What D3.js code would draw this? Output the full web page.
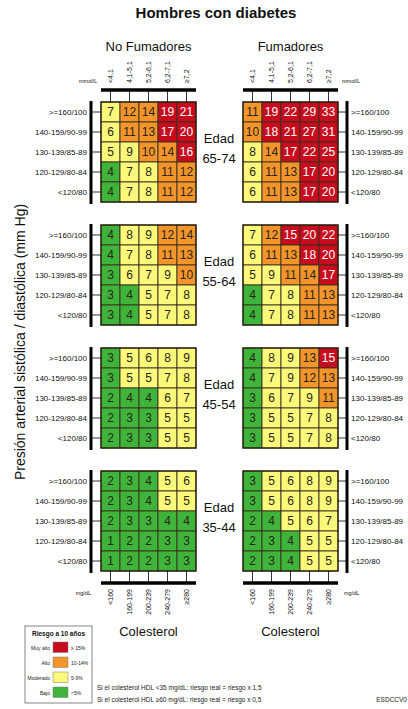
<!DOCTYPE html>
<html><head><meta charset="utf-8">
<script src="https://cdn.jsdelivr.net/npm/d3@7"></script>
<style>body{margin:0;background:#fff}svg{display:block;font-family:"Liberation Sans",Arial,sans-serif}</style>
</head><body><svg id="c" width="408" height="709"></svg>
<script>
// ---- data ----
const ageGroups = ["65-74","55-64","45-54","35-44"];
const bpLabels = [">=160/100","140-159/90-99","130-139/85-89","120-129/80-84","<120/80"];
const cholMmol = ["<4,1","4,1-5,1","5,2-6,1","6,2-7,1","≥7,2"];
const cholMg = ["<160","160-199","200-239","240-279","≥280"];
const panels = ["No Fumadores","Fumadores"];

const noFum_65_74 = [[7,12,14,19,21],[6,11,13,17,20],[5,9,10,14,16],[4,7,8,11,12],[4,7,8,11,12]];
const fum_65_74   = [[11,19,22,29,33],[10,18,21,27,31],[8,14,17,22,25],[6,11,13,17,20],[6,11,13,17,20]];
const noFum_55_64 = [[4,8,9,12,14],[4,7,8,11,13],[3,6,7,9,10],[3,4,5,7,8],[3,4,5,7,8]];
const fum_55_64   = [[7,12,15,20,22],[6,11,13,18,20],[5,9,11,14,17],[4,7,8,11,13],[4,7,8,11,13]];
const noFum_45_54 = [[3,5,6,8,9],[3,5,5,7,8],[2,4,4,6,7],[2,3,3,5,5],[2,3,3,5,5]];
const fum_45_54   = [[4,8,9,13,15],[4,7,9,12,13],[3,6,7,9,11],[3,5,5,7,8],[3,5,5,7,8]];
const noFum_35_44 = [[2,3,4,5,6],[2,3,4,5,5],[2,3,3,4,4],[1,2,2,3,3],[1,2,2,3,3]];
const fum_35_44   = [[3,5,6,8,9],[3,5,6,8,9],[2,4,5,6,7],[2,3,4,5,5],[2,3,4,5,5]];

const riskThresholds = [5,10,15];
const riskLevels = ["Muy alto","Alto","Moderado","Bajo"];
const riskRanges = ["≥ 15%","10-14%","5-9%","<5%"];
const notes = ["Si el colesterol HDL <35 mg/dL: riesgo real = riesgo x 1,5",
               "Si el colesterol HDL ≥60 mg/dL: riesgo real = riesgo x 0,5"];

const tables = [
  [noFum_65_74, fum_65_74],
  [noFum_55_64, fum_55_64],
  [noFum_45_54, fum_45_54],
  [noFum_35_44, fum_35_44]
];

// ---- style ----
const cGreen="#3fb43a", cYellow="#fbf97a", cOrange="#f3952a", cRed="#c80c1e";
const color = d3.scaleThreshold().domain(riskThresholds).range([cGreen,cYellow,cOrange,cRed]);

const svg = d3.select("#c");

const panelX = d3.scaleOrdinal().domain(panels).range([101,243]);
const gridW = 95, gridH = 100;
const blockY = d3.scaleBand().domain(ageGroups).range([102,594]).paddingInner(0.187).paddingOuter(0);
// band of 4 blocks: compute so bandwidth=100
blockY.range([102, 102 + 4*100/(1-0.187) - 0.187*100/(1-0.187)]);
const colX = d3.scaleBand().domain(d3.range(5)).range([0,gridW]);
const rowY = d3.scaleBand().domain(d3.range(5)).range([0,gridH]);

// title
svg.append("text").attr("x",216).attr("y",18).attr("text-anchor","middle")
  .attr("font-size",15).attr("font-weight","bold").attr("fill","#111").text("Hombres con diabetes");

panels.forEach((p,pi)=>{
  const x0 = panelX(p);
  svg.append("text").attr("x",x0+gridW/2).attr("y",51).attr("text-anchor","middle")
    .attr("font-size",13).attr("fill","#111").text(p);

  ageGroups.forEach((ag,ai)=>{
    const y0 = blockY(ag);
    const g = svg.append("g").attr("transform",`translate(${x0},${y0})`);
    const data = tables[ai][pi];
    const cells = [];
    data.forEach((row,r)=>row.forEach((v,c)=>cells.push({r,c,v})));
    g.selectAll("rect").data(cells).join("rect")
      .attr("x",d=>colX(d.c)).attr("y",d=>rowY(d.r))
      .attr("width",colX.bandwidth()).attr("height",rowY.bandwidth())
      .attr("fill",d=>color(d.v)).attr("stroke","#3a3020").attr("stroke-width",0.9);
    g.append("rect").attr("width",gridW).attr("height",gridH).attr("fill","none")
      .attr("stroke","#2a2010").attr("stroke-width",1.3);
    g.selectAll("text.v").data(cells).join("text").attr("class","v")
      .attr("x",d=>colX(d.c)+colX.bandwidth()/2).attr("y",d=>rowY(d.r)+rowY.bandwidth()/2+4.3)
      .attr("text-anchor","middle").attr("font-size",12)
      .attr("fill",d=>d.v>=15?"#fff":"#2a2418").text(d=>d.v);

    // vertical BP axis
    const axX = pi===0 ? x0-10 : x0+gridW+9;
    svg.append("line").attr("x1",axX).attr("x2",axX).attr("y1",y0-1).attr("y2",y0+gridH+2)
      .attr("stroke","#000").attr("stroke-width",3);
    bpLabels.forEach((b,r)=>{
      const yy = y0+rowY(r)+rowY.bandwidth()/2;
      svg.append("line").attr("x1",pi===0?axX:x0+gridW).attr("x2",pi===0?x0:axX)
        .attr("y1",yy).attr("y2",yy).attr("stroke","#000").attr("stroke-width",0.8);
      svg.append("text").attr("x",pi===0?axX-4:axX+4).attr("y",yy+3)
        .attr("text-anchor",pi===0?"end":"start").attr("font-size",8).attr("fill","#111").text(b);
    });
  });

  // top axis
  const yTop = 90;
  svg.append("line").attr("x1",x0).attr("x2",x0+gridW).attr("y1",yTop).attr("y2",yTop)
    .attr("stroke","#000").attr("stroke-width",3.5);
  cholMmol.forEach((t,c)=>{
    const xx = x0+colX(c)+colX.bandwidth()/2;
    svg.append("line").attr("x1",xx).attr("x2",xx).attr("y1",yTop).attr("y2",102)
      .attr("stroke","#000").attr("stroke-width",0.8);
    svg.append("text").attr("transform",`translate(${xx+2.5},${yTop-7}) rotate(-90)`)
      .attr("text-anchor","start").attr("font-size",7).attr("fill","#111").text(t);
  });
  svg.append("text").attr("x",pi===0?x0-4:x0+gridW+4).attr("y",83)
    .attr("text-anchor",pi===0?"end":"start").attr("font-size",5.5).attr("fill","#111").text("mmol/L");

  // bottom axis
  const yBot = 583;
  const lastTop = blockY(ageGroups[3])+gridH;
  svg.append("line").attr("x1",x0).attr("x2",x0+gridW).attr("y1",yBot).attr("y2",yBot)
    .attr("stroke","#000").attr("stroke-width",3.5);
  cholMg.forEach((t,c)=>{
    const xx = x0+colX(c)+colX.bandwidth()/2;
    svg.append("line").attr("x1",xx).attr("x2",xx).attr("y1",lastTop).attr("y2",yBot)
      .attr("stroke","#000").attr("stroke-width",0.8);
    svg.append("text").attr("transform",`translate(${xx+2.5},${yBot+6}) rotate(-90)`)
      .attr("text-anchor","end").attr("font-size",7).attr("fill","#111").text(t);
  });
  svg.append("text").attr("x",pi===0?x0-10:x0+gridW+6).attr("y",595)
    .attr("text-anchor",pi===0?"end":"start").attr("font-size",5.5).attr("fill","#111").text("mg/dL");

  svg.append("text").attr("x",x0+gridW/2).attr("y",636).attr("text-anchor","middle")
    .attr("font-size",13).attr("fill","#111").text("Colesterol");
});

// age labels
ageGroups.forEach(ag=>{
  const y0 = blockY(ag);
  svg.append("text").attr("x",219).attr("y",y0+41).attr("text-anchor","middle")
    .attr("font-size",13).attr("fill","#111").text("Edad");
  svg.append("text").attr("x",219).attr("y",y0+61).attr("text-anchor","middle")
    .attr("font-size",13).attr("fill","#111").text(ag);
});

// y title
svg.append("text").attr("transform","translate(25,342) rotate(-90)").attr("text-anchor","middle")
  .attr("font-size",14).attr("fill","#111").text("Presión arterial sistólica / diastólica (mm Hg)");

// legend
const lg = svg.append("g");
lg.append("rect").attr("x",25).attr("y",626).attr("width",67).attr("height",77)
  .attr("fill","#fff").attr("stroke","#666").attr("stroke-width",0.8);
lg.append("text").attr("x",58.5).attr("y",636).attr("text-anchor","middle")
  .attr("font-size",6.5).attr("font-weight","bold").attr("fill","#111").text("Riesgo a 10 años");
const legColors = [cRed,cOrange,cYellow,cGreen];
const legY = d3.scaleBand().domain(riskLevels).range([640,700]);
riskLevels.forEach((lv,i)=>{
  const yy = legY(lv);
  lg.append("rect").attr("x",53).attr("y",yy+2).attr("width",15).attr("height",10.5)
    .attr("fill",legColors[i]).attr("stroke","#777").attr("stroke-width",0.5);
  lg.append("text").attr("x",50).attr("y",yy+9.5).attr("text-anchor","end")
    .attr("font-size",5).attr("fill","#222").text(lv);
  lg.append("text").attr("x",71).attr("y",yy+9.5).attr("text-anchor","start")
    .attr("font-size",5).attr("fill","#222").text(riskRanges[i]);
});

notes.forEach((n,i)=>{
  svg.append("text").attr("x",97).attr("y",690+i*12).attr("font-size",6.5)
    .attr("fill","#222").text(n);
});
svg.append("text").attr("x",407).attr("y",702).attr("text-anchor","end")
  .attr("font-size",6.5).attr("fill","#222").text("ESDCCV0");
</script></body></html>
